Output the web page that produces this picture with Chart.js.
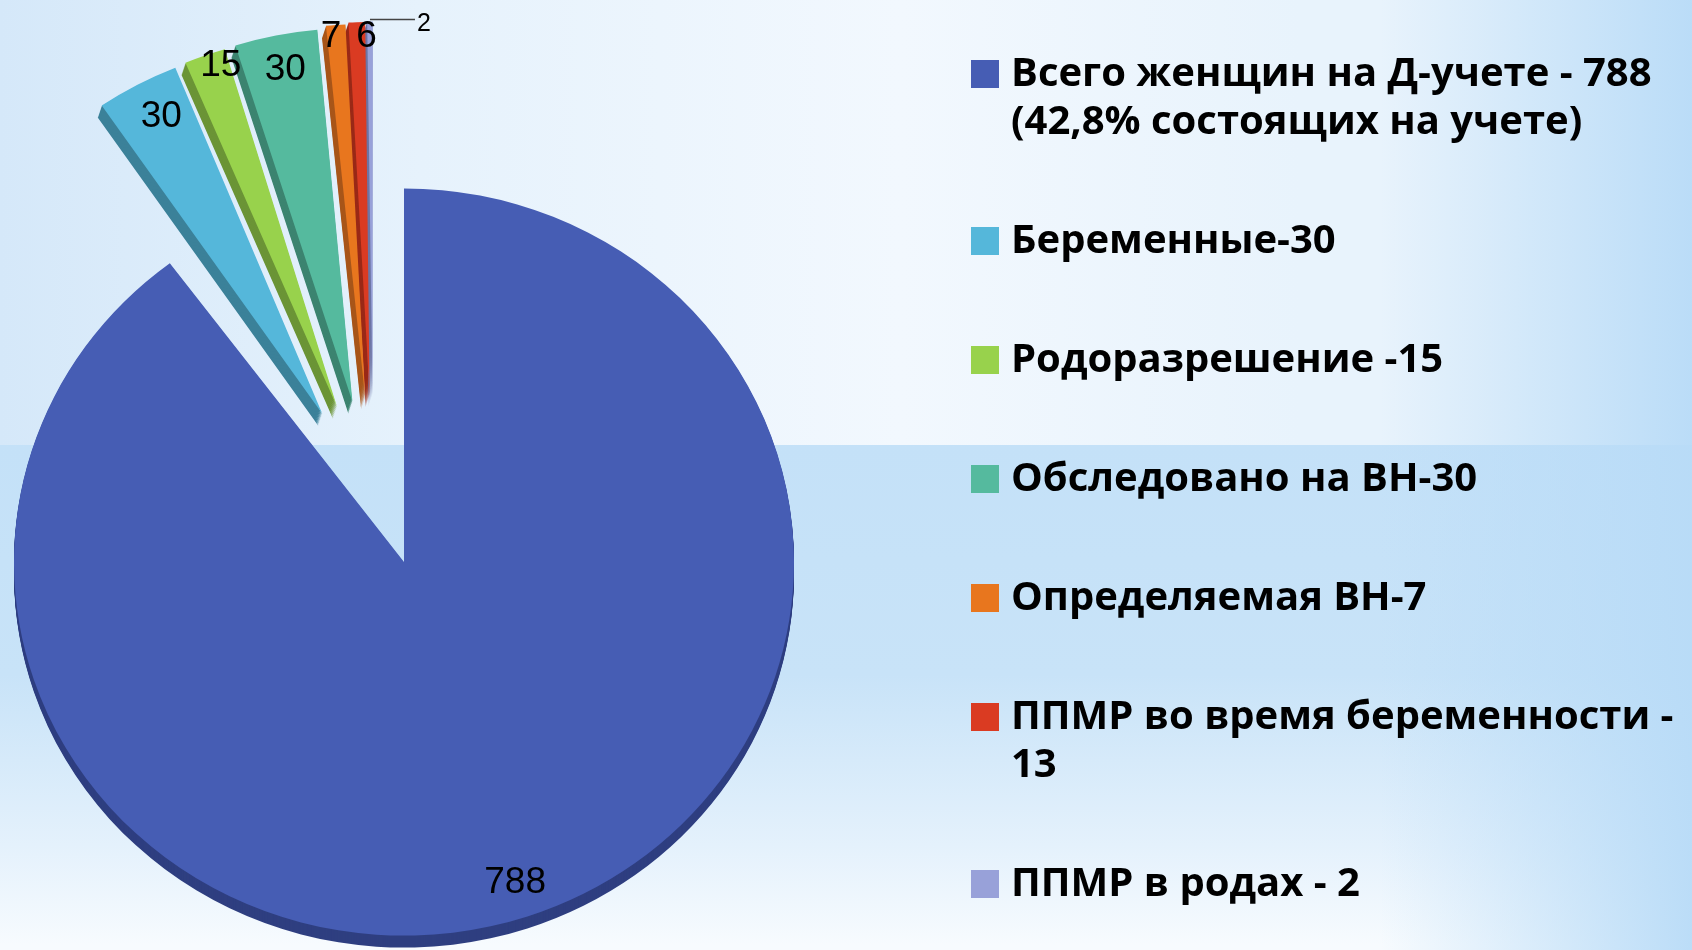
<!DOCTYPE html>
<html>
<head>
<meta charset="utf-8">
<script src="https://cdn.jsdelivr.net/npm/chart.js@4.4.1/dist/chart.umd.min.js"></script>
<style>
html, body { margin: 0; padding: 0; width: 1692px; height: 950px; overflow: hidden; }
#bg {
  position: absolute; left: 0; top: 0; width: 1692px; height: 950px;
  background:
    linear-gradient(to right, rgba(184,219,247,0) 0px, rgba(184,219,247,0) 1380px, rgba(184,219,247,0.95) 1692px),
    linear-gradient(to right, #d5e8f9 0px, #e6f2fc 420px, #f2f8fe 900px, #e8f3fc 1300px) 0 0 / 1692px 445px no-repeat,
    linear-gradient(to bottom, #c4e1f8 0px, #c8e3f8 230px, #e4f1fc 400px, #f7fbfe 500px) 0 445px / 1692px 505px no-repeat;
}
#chart { position: absolute; left: 0; top: 0; }
#legend {
  position: absolute; left: 971px; top: 47px;
  font-family: "Open Sans", "Lato", sans-serif; font-weight: 700;
  font-size: 40px; line-height: 48px; color: #000;
}
#legend .item { position: relative; padding-left: 40px; margin-bottom: 71px; white-space: nowrap; }
#legend .sw { position: absolute; left: 0; top: 13px; width: 28px; height: 28px; }
</style>
</head>
<body>
<div id="bg"></div>
<canvas id="chart" width="1692" height="950"></canvas>
<div id="legend"></div>
<script>
// ---- data ----
const categories = [
  ['Всего женщин на Д-учете - 788', '(42,8% состоящих на учете)'],
  ['Беременные-30'],
  ['Родоразрешение -15'],
  ['Обследовано на ВН-30'],
  ['Определяемая ВН-7'],
  ['ППМР во время беременности -', '13'],
  ['ППМР в родах - 2']
];
const values = [788, 30, 15, 30, 7, 6, 2];

// ---- styles ----
const sliceColors = ['#465DB4', '#55B7DA', '#98D24C', '#55BA9E', '#E8761E', '#DA3B22', '#98A1D9'];
const sideColors  = ['#2F3F80', '#3B8199', '#6B9436', '#3C8470', '#A8561A', '#9A2A18', '#6D75A5'];
const explodeDist = [0, 175, 175, 175, 176, 177, 177];
const labelRadius = [0.9, 0.9, 0.965, 0.91, 0.975, 0.967, null]; // null -> outside with leader line
const labelAngleAdj = [0, 1.0, 1.8, 0.4, -0.8, 1.4, 0];         // degrees

const CX = 404, CY = 562, R = 390, SY = 0.958, DEPTH = 12;
const SKEW = 0.58, BIAS = -10 * Math.PI / 180, ROT_K = 0.08;
const DEG = Math.PI / 180;

function midTop(arc) {
  let m = (arc.startAngle + arc.endAngle) / 2 + Math.PI / 2;
  while (m > Math.PI) m -= 2 * Math.PI;
  return m;
}
function explodeVec(arc, i) {
  const d = explodeDist[i];
  if (!d) return { dx: 0, dy: 0, rot: 0 };
  const mt = midTop(arc);
  const dir = SKEW * mt + BIAS - Math.PI / 2;
  return { dx: Math.cos(dir) * d, dy: Math.sin(dir) * d, rot: -ROT_K * mt };
}
function applyExplode(ctx, arc, ev, extraX, extraY) {
  ctx.translate(arc.x + ev.dx + extraX, arc.y + ev.dy + extraY);
  ctx.rotate(ev.rot);
  ctx.translate(-arc.x, -arc.y);
}
function drawArcWith(ctx, arc, color) {
  const o = arc.options;
  arc.options = Object.assign({}, o, { backgroundColor: color, borderColor: color });
  arc.draw(ctx);
  arc.options = o;
}

const pie3d = {
  id: 'pie3d',
  beforeDatasetsDraw(chart) {
    const ctx = chart.ctx;
    const meta = chart.getDatasetMeta(0);
    const cy = meta.data[0].y;
    ctx.save();
    ctx.translate(0, cy); ctx.scale(1, SY); ctx.translate(0, -cy);
    meta.data.forEach((arc, i) => {
      const ev = explodeVec(arc, i);
      const sdx = explodeDist[i] ? -4 : 0;
      for (let k = DEPTH; k > 0; k--) {
        ctx.save();
        applyExplode(ctx, arc, ev, sdx * k / DEPTH, k / SY);
        drawArcWith(ctx, arc, sideColors[i]);
        ctx.restore();
      }
    });
    meta.data.forEach((arc, i) => {
      const ev = explodeVec(arc, i);
      ctx.save();
      applyExplode(ctx, arc, ev, 0, 0);
      arc.draw(ctx);
      ctx.restore();
    });
    ctx.restore();
    return false;
  },
  afterDraw(chart) {
    const ctx = chart.ctx;
    const meta = chart.getDatasetMeta(0);
    ctx.save();
    ctx.fillStyle = '#000';
    meta.data.forEach((arc, i) => {
      const ev = explodeVec(arc, i);
      const mid = (arc.startAngle + arc.endAngle) / 2;
      const text = String(values[i]);
      const f = labelRadius[i];
      const ang = mid + ev.rot + labelAngleAdj[i] * DEG;
      const r = arc.outerRadius * (f === null ? 1 : f);
      const px = arc.x + ev.dx + Math.cos(ang) * r;
      const py = arc.y + ev.dy + Math.sin(ang) * r;
      const sy = arc.y + (py - arc.y) * SY;
      if (f !== null) {
        ctx.font = '37px "Liberation Sans", Arial, sans-serif';
        ctx.textAlign = 'center';
        ctx.textBaseline = 'middle';
        ctx.fillText(text, px, sy + 2);
      } else {
        const ly = sy - 2;
        ctx.strokeStyle = '#444';
        ctx.lineWidth = 1.5;
        ctx.beginPath();
        ctx.moveTo(px, ly);
        ctx.lineTo(px + 45, ly);
        ctx.stroke();
        ctx.font = '25px "Liberation Sans", Arial, sans-serif';
        ctx.textAlign = 'left';
        ctx.textBaseline = 'middle';
        ctx.fillText(text, px + 47, ly + 5);
      }
    });
    ctx.restore();
  }
};

new Chart(document.getElementById('chart'), {
  type: 'pie',
  data: {
    labels: categories.map(l => l.join(' ')),
    datasets: [{ data: values, backgroundColor: sliceColors, borderWidth: 0, clip: false }]
  },
  options: {
    responsive: false,
    animation: false,
    events: [],
    radius: R,
    layout: { padding: { left: 0, right: 1692 - 2 * CX, top: 2 * CY - 950, bottom: 0 } },
    plugins: { legend: { display: false }, tooltip: { enabled: false } }
  },
  plugins: [pie3d]
});

// ---- HTML legend built from the category arrays ----
const legendEl = document.getElementById('legend');
categories.forEach((lines, i) => {
  const item = document.createElement('div');
  item.className = 'item';
  const sw = document.createElement('span');
  sw.className = 'sw';
  sw.style.background = sliceColors[i];
  item.appendChild(sw);
  lines.forEach((ln, j) => {
    if (j) item.appendChild(document.createElement('br'));
    item.appendChild(document.createTextNode(ln));
  });
  legendEl.appendChild(item);
});
</script>
</body>
</html>
